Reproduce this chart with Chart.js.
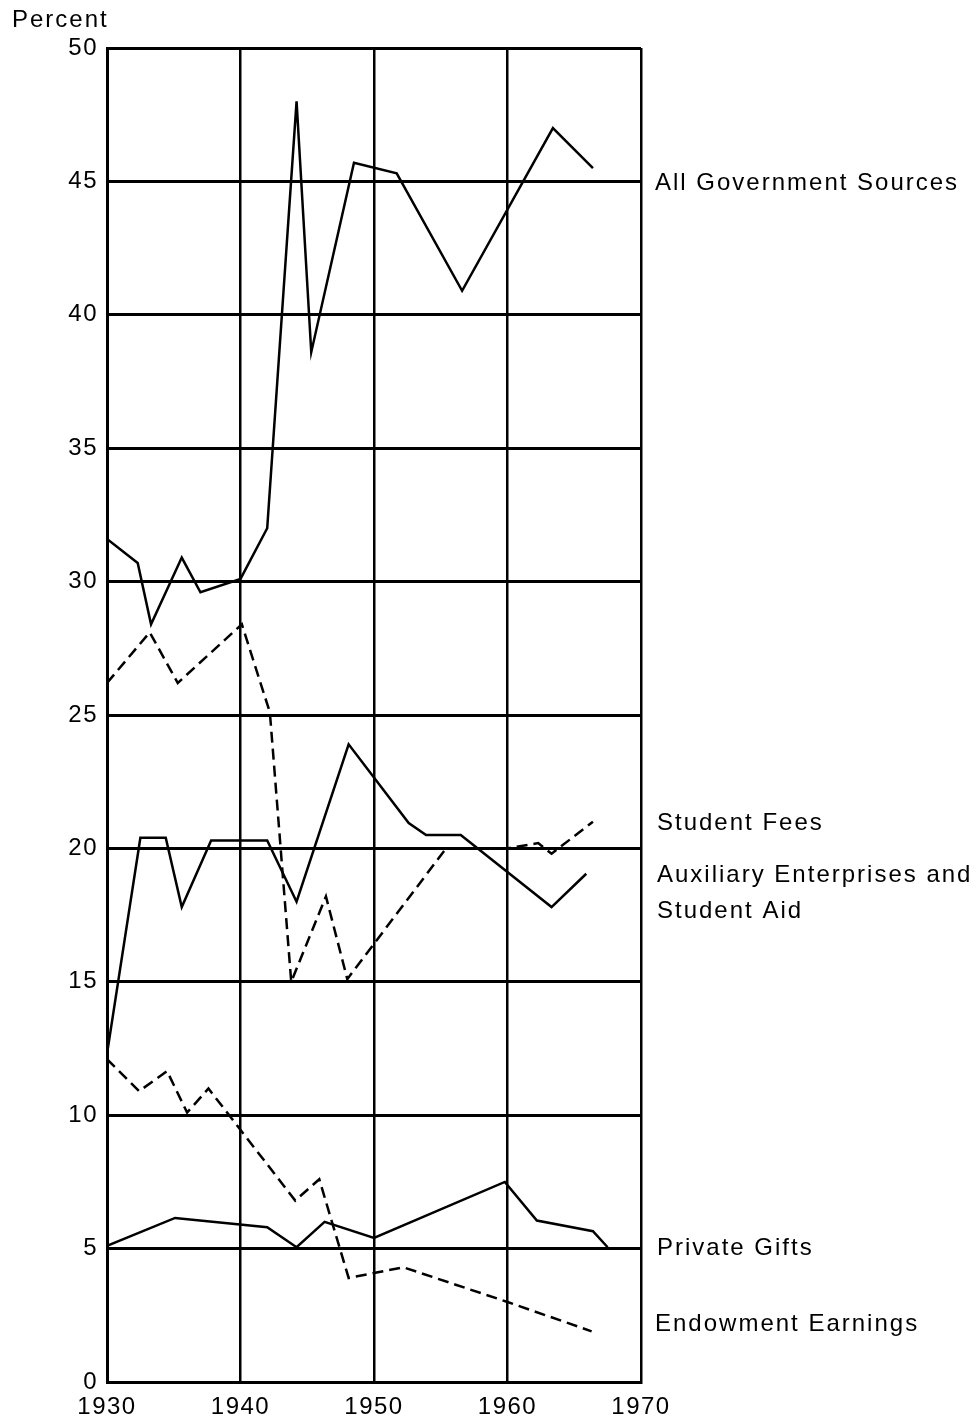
<!DOCTYPE html>
<html>
<head>
<meta charset="utf-8">
<script src="https://cdn.jsdelivr.net/npm/chart.js@4"></script>
<style>
  html, body { margin: 0; padding: 0; background: #fff; }
  canvas { display: block; }
</style>
</head>
<body>
<canvas id="grafica" width="980" height="1425"></canvas>
<script>
  // Datos (año, porcentaje)
  const govYears   = [1930, 1932.3, 1933.3, 1935.6, 1937, 1940, 1942, 1944.2, 1945.3, 1948.5, 1951.7, 1956.6, 1963.4, 1966.4];
  const govValues  = [31.6, 30.7, 28.4, 30.9, 29.6, 30.1, 32.0, 48.0, 38.6, 45.7, 45.3, 40.9, 47.0, 45.5];

  const feeYears   = [1930, 1933.2, 1935.3, 1940.1, 1942.2, 1943.8, 1946.4, 1948, 1955.4, 1960, 1962.3, 1963.3, 1966.4];
  const feeValues  = [26.2, 28.1, 26.2, 28.4, 25.1, 15.0, 18.2, 15.1, 20.0, 20.0, 20.2, 19.8, 21.0];

  const auxYears   = [1930, 1932.5, 1934.4, 1935.6, 1937.8, 1942, 1944.2, 1948.1, 1952.6, 1953.9, 1956.5, 1963.3, 1965.9];
  const auxValues  = [12.3, 20.4, 20.4, 17.8, 20.3, 20.3, 18.0, 23.9, 20.95, 20.5, 20.5, 17.8, 19.05];

  const endYears   = [1930, 1932.4, 1934.5, 1936, 1937.6, 1944.1, 1945.9, 1948.1, 1952.2, 1960, 1966.3];
  const endValues  = [12.1, 10.9, 11.65, 10.1, 11.0, 6.8, 7.6, 3.9, 4.3, 3.0, 1.9];

  const giftYears  = [1930, 1935.1, 1942, 1944.2, 1946.3, 1950, 1959.8, 1962.2, 1966.4, 1967.5];
  const giftValues = [5.1, 6.15, 5.8, 5.05, 6.0, 5.4, 7.5, 6.05, 5.65, 5.05];

  const seriesLabels = ["All Government Sources", "Student Fees", "Auxiliary Enterprises and Student Aid", "Private Gifts", "Endowment Earnings"];

  const FONT = '"Liberation Sans", Arial, Helvetica, sans-serif';
  const pts = (xs, ys) => xs.map((x, i) => ({ x, y: ys[i] }));
  const DASH = [11, 6];

  const mkSet = (label, xs, ys, dashed) => ({
    label, data: pts(xs, ys),
    borderColor: "#000", borderWidth: 2.5,
    borderDash: dashed ? DASH : [],
    pointRadius: 0, tension: 0, fill: false
  });

  // Textos al lado derecho y "Percent"
  const textos = {
    id: "textos",
    beforeDraw(chart) { chart.ctx.letterSpacing = "1.5px"; },
    afterDraw(chart) {
      const c = chart.ctx;
      c.save();
      c.letterSpacing = "2px";
      c.fillStyle = "#000";
      c.font = "24px " + FONT;
      c.textAlign = "left";
      c.textBaseline = "alphabetic";
      c.fillText("Percent", 12, 27);
      c.fillText(seriesLabels[0], 655, 190);
      c.fillText(seriesLabels[1], 657, 830);
      c.fillText("Auxiliary Enterprises and", 657, 882);
      c.fillText("Student Aid", 657, 918);
      c.fillText(seriesLabels[3], 657, 1255);
      c.fillText(seriesLabels[4], 655, 1331);
      c.restore();
    }
  };

  new Chart(document.getElementById("grafica"), {
    type: "line",
    data: {
      datasets: [
        mkSet(seriesLabels[0], govYears, govValues, false),
        mkSet(seriesLabels[1], feeYears, feeValues, true),
        mkSet(seriesLabels[2], auxYears, auxValues, false),
        mkSet(seriesLabels[4], endYears, endValues, true),
        mkSet(seriesLabels[3], giftYears, giftValues, false)
      ]
    },
    options: {
      responsive: false,
      animation: false,
      layout: { padding: { top: 48, right: 339, left: 0, bottom: 0 } },
      plugins: { legend: { display: false }, tooltip: { enabled: false } },
      scales: {
        x: {
          type: "linear", min: 1930, max: 1970,
          ticks: { stepSize: 10, padding: 11, color: "#000", font: { family: FONT, size: 24 }, callback: v => String(v), maxRotation: 0 },
          grid: { color: "#000", lineWidth: 2.5, drawTicks: false },
          border: { color: "#000", width: 3 },
          afterFit: s => { s.height = 43; }
        },
        y: {
          min: 0, max: 50,
          ticks: { stepSize: 5, padding: 9, color: "#000", font: { family: FONT, size: 24 } },
          grid: { color: "#000", lineWidth: 3, drawTicks: false },
          border: { color: "#000", width: 3 },
          afterFit: s => { s.width = 107; }
        }
      }
    },
    plugins: [textos]
  });
</script>
</body>
</html>
